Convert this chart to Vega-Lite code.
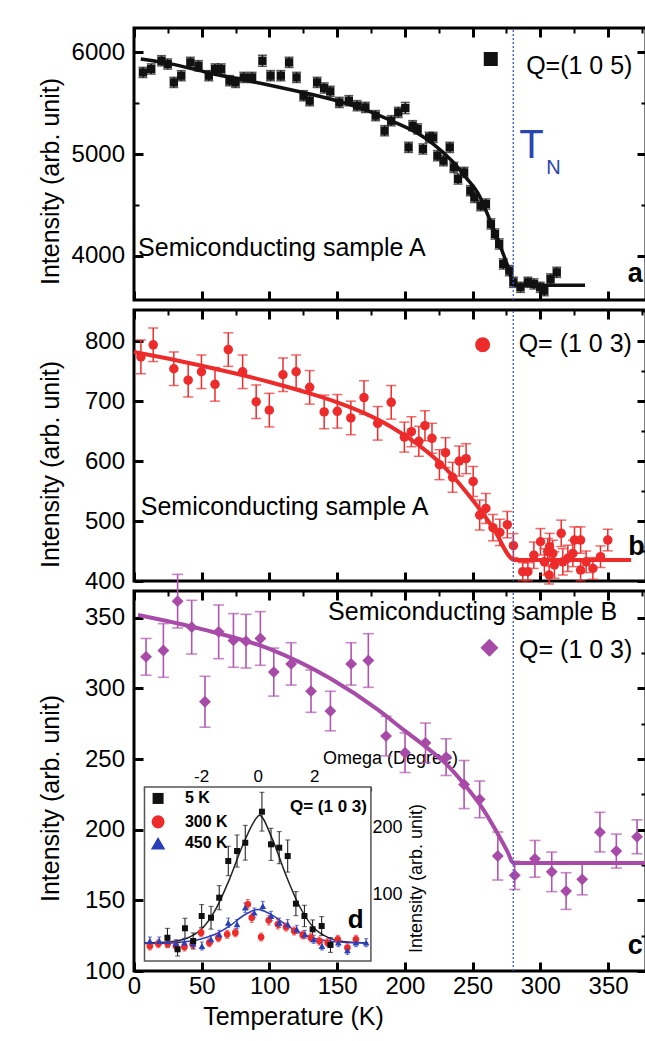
{
"$schema": "https://vega.github.io/schema/vega-lite/v6.json",
"background": "white",
"padding": {"left": 36, "top": 25, "right": 0, "bottom": 0},
"spacing": 10,
"bounds": "flush",
"config": {
  "font": "Liberation Sans",
  "view": {"stroke": "black", "strokeWidth": 3},
  "axis": {"grid": false, "domain": false, "labelColor": "black", "titleColor": "black", "titleFontWeight": "normal", "tickColor": "black", "labelFont": "Liberation Sans", "titleFont": "Liberation Sans", "zindex": 1, "labelFlush": false, "labelOverlap": false},
  "text": {"font": "Liberation Sans"}
},
"datasets": {
  "a": [
    {"T":6.6,"I":5803,"e":50},{"T":12.7,"I":5837,"e":50},{"T":20.3,"I":5918,"e":50},{"T":24.9,"I":5886,"e":50},{"T":29.4,"I":5705,"e":50},{"T":34.9,"I":5771,"e":50},{"T":41.6,"I":5902,"e":50},{"T":47.6,"I":5869,"e":50},{"T":55.2,"I":5771,"e":50},{"T":59.8,"I":5837,"e":50},{"T":64.4,"I":5837,"e":50},{"T":70.5,"I":5722,"e":50},{"T":75,"I":5705,"e":50},{"T":81.1,"I":5754,"e":50},{"T":87.2,"I":5754,"e":50},{"T":94.8,"I":5918,"e":55},{"T":100.8,"I":5771,"e":50},{"T":108.4,"I":5771,"e":50},{"T":114.5,"I":5902,"e":50},{"T":120,"I":5754,"e":50},{"T":125.2,"I":5574,"e":50},{"T":129.7,"I":5525,"e":50},{"T":135.2,"I":5705,"e":50},{"T":140.4,"I":5650,"e":50},{"T":144.9,"I":5617,"e":50},{"T":151.6,"I":5508,"e":50},{"T":158.6,"I":5525,"e":50},{"T":164.7,"I":5476,"e":50},{"T":170.8,"I":5459,"e":50},{"T":178.4,"I":5378,"e":50},{"T":185,"I":5230,"e":50},{"T":189.9,"I":5328,"e":50},{"T":195.1,"I":5410,"e":50},{"T":200.3,"I":5453,"e":55},{"T":202.7,"I":5066,"e":50},{"T":205.7,"I":5279,"e":50},{"T":209.4,"I":5247,"e":50},{"T":213.3,"I":5050,"e":50},{"T":217.9,"I":5164,"e":50},{"T":220.9,"I":5164,"e":50},{"T":224,"I":4984,"e":50},{"T":228.5,"I":4935,"e":50},{"T":233.1,"I":5066,"e":50},{"T":236.1,"I":4869,"e":50},{"T":239.2,"I":4755,"e":50},{"T":243.7,"I":4820,"e":50},{"T":248.3,"I":4640,"e":50},{"T":251.3,"I":4574,"e":50},{"T":255.9,"I":4493,"e":50},{"T":259.8,"I":4509,"e":50},{"T":263.5,"I":4313,"e":50},{"T":266.5,"I":4214,"e":50},{"T":269.6,"I":4116,"e":50},{"T":272.6,"I":3919,"e":50},{"T":277.1,"I":3854,"e":50},{"T":280.1,"I":3739,"e":50},{"T":285.3,"I":3690,"e":50},{"T":290.8,"I":3739,"e":50},{"T":295.3,"I":3723,"e":50},{"T":299.9,"I":3690,"e":50},{"T":302.9,"I":3657,"e":50},{"T":307.5,"I":3772,"e":50},{"T":312.1,"I":3837,"e":50}
  ],
  "afit": [
    {"T":5,"I":5935},{"T":30,"I":5880},{"T":54,"I":5803},{"T":75,"I":5745},{"T":96,"I":5689},{"T":120,"I":5620},{"T":145,"I":5542},{"T":170,"I":5440},{"T":190,"I":5328},{"T":210,"I":5200},{"T":221,"I":5099},{"T":235,"I":4930},{"T":245,"I":4771},{"T":255,"I":4590},{"T":260,"I":4440},{"T":266,"I":4240},{"T":272.6,"I":4018},{"T":277,"I":3860},{"T":280.5,"I":3710},{"T":300,"I":3710},{"T":333,"I":3710}
  ],
  "b": [
    {"T":5.1,"I":773.8,"e":28},{"T":14.2,"I":794,"e":28},{"T":29.4,"I":754,"e":28},{"T":40,"I":735,"e":28},{"T":49.8,"I":749,"e":28},{"T":59.8,"I":728,"e":28},{"T":69.6,"I":786,"e":28},{"T":80.2,"I":749,"e":28},{"T":90.2,"I":699,"e":28},{"T":99.9,"I":685,"e":28},{"T":110,"I":744,"e":28},{"T":119.7,"I":749,"e":28},{"T":129.7,"I":723,"e":28},{"T":140.4,"I":682,"e":28},{"T":150.1,"I":683,"e":28},{"T":160.1,"I":672,"e":28},{"T":169.8,"I":706,"e":28},{"T":179.9,"I":663,"e":28},{"T":189.9,"I":698,"e":28},{"T":199.6,"I":640,"e":25},{"T":204.8,"I":649,"e":25},{"T":210.3,"I":633,"e":25},{"T":214.8,"I":659,"e":25},{"T":220,"I":638,"e":25},{"T":225.5,"I":594,"e":25},{"T":230,"I":614,"e":25},{"T":235.2,"I":573,"e":25},{"T":240.1,"I":600,"e":25},{"T":245.2,"I":604,"e":25},{"T":250.4,"I":566,"e":25},{"T":255.2,"I":510,"e":25},{"T":259.8,"I":521,"e":25},{"T":265,"I":489,"e":22},{"T":270.1,"I":481,"e":22},{"T":275.6,"I":494,"e":22},{"T":280.1,"I":459,"e":20},
    {"T":287,"I":415.5,"e":15},{"T":290.8,"I":415.5,"e":15},{"T":295.2,"I":443,"e":22},{"T":300.1,"I":465.5,"e":22},{"T":303,"I":432,"e":22},{"T":305.5,"I":449,"e":22},{"T":306.8,"I":457.5,"e":22},{"T":309.2,"I":446,"e":22},{"T":310.4,"I":426.7,"e":22},{"T":315.4,"I":479.5,"e":22},{"T":316.6,"I":432,"e":22},{"T":320.3,"I":437.8,"e":22},{"T":324,"I":446,"e":22},{"T":325.2,"I":468.3,"e":22},{"T":329.7,"I":468.3,"e":22},{"T":329.7,"I":418.3,"e":18},{"T":333.8,"I":432,"e":18},{"T":338.8,"I":421,"e":18},{"T":344.4,"I":440.5,"e":18},{"T":349.8,"I":468.3,"e":18},{"T":306.5,"I":410,"e":15}
  ],
  "bfit": [
    {"T":0,"I":782},{"T":25,"I":771},{"T":50,"I":759},{"T":75,"I":746},{"T":100,"I":732},{"T":125,"I":716},{"T":150,"I":698},{"T":170,"I":680},{"T":190,"I":657},{"T":210,"I":627},{"T":230,"I":588},{"T":250,"I":535},{"T":265,"I":489},{"T":281,"I":435},{"T":367,"I":435}
  ],
  "c": [
    {"T":8.9,"I":322.4,"e":13},{"T":21.7,"I":326.9,"e":19},{"T":32.2,"I":361.8,"e":19},{"T":42.6,"I":343.4,"e":19},{"T":52.4,"I":290.6,"e":18},{"T":62.5,"I":340.1,"e":19},{"T":73.4,"I":334,"e":19},{"T":82.7,"I":333.5,"e":19},{"T":93.3,"I":335.4,"e":19},{"T":103.2,"I":311.6,"e":17},{"T":116,"I":317.4,"e":15},{"T":130.7,"I":298.1,"e":15},{"T":145,"I":284,"e":14},{"T":160.3,"I":317.4,"e":15},{"T":173,"I":319.8,"e":19},{"T":186.1,"I":266.3,"e":14},{"T":200.1,"I":254.5,"e":14},{"T":215.2,"I":261.5,"e":14},{"T":230.4,"I":251.4,"e":13},{"T":243.7,"I":232,"e":17},{"T":255.2,"I":221.5,"e":13},{"T":268.6,"I":181.4,"e":17},{"T":281.1,"I":167.7,"e":10},{"T":296,"I":179.4,"e":13},{"T":308.4,"I":170.2,"e":14},{"T":319,"I":156.6,"e":13},{"T":330.9,"I":164.9,"e":11},{"T":344,"I":198.3,"e":14},{"T":356.1,"I":184.9,"e":12},{"T":371.4,"I":195,"e":12}
  ],
  "cfit": [
    {"T":3,"I":352},{"T":50,"I":342},{"T":100,"I":328},{"T":145,"I":307},{"T":180,"I":285},{"T":200,"I":270},{"T":215,"I":259},{"T":230,"I":247},{"T":244,"I":232},{"T":256,"I":217},{"T":268,"I":198},{"T":276,"I":184},{"T":280,"I":176.5},{"T":378,"I":176.5}
  ],
  "k5": [
    {"w":-3.19,"I":34.8,"e":14},{"w":-2.83,"I":17.5,"e":10},{"w":-2.57,"I":48.9,"e":15},{"w":-2.28,"I":29.9,"e":12},{"w":-1.98,"I":67.3,"e":17},{"w":-1.65,"I":64.7,"e":17},{"w":-1.36,"I":94.6,"e":18},{"w":-1.04,"I":149.5,"e":22},{"w":-0.73,"I":164.4,"e":24},{"w":-0.44,"I":176.8,"e":26},{"w":0.15,"I":223.2,"e":29},{"w":0.47,"I":174.4,"e":24},{"w":0.76,"I":169.4,"e":24},{"w":1.06,"I":156.9,"e":24},{"w":1.35,"I":85.7,"e":18},{"w":1.65,"I":67.3,"e":16},{"w":1.94,"I":47.4,"e":14},{"w":2.26,"I":52.3,"e":14},{"w":2.57,"I":23.9,"e":11}
  ],
  "k300": [
    {"w":-3.81,"I":22.4,"e":6},{"w":-3.51,"I":25.9,"e":6},{"w":-3.18,"I":25.9,"e":6},{"w":-2.89,"I":22.4,"e":6},{"w":-2.59,"I":20.9,"e":6},{"w":-2.3,"I":25,"e":6},{"w":-2.0,"I":42.3,"e":6},{"w":-1.71,"I":27.4,"e":6},{"w":-1.39,"I":34.8,"e":6},{"w":-1.08,"I":39.9,"e":6},{"w":-0.79,"I":42.3,"e":6},{"w":-0.35,"I":84.8,"e":7},{"w":-0.21,"I":64.7,"e":7},{"w":0.12,"I":35.9,"e":6},{"w":0.39,"I":60.8,"e":7},{"w":0.71,"I":54.9,"e":7},{"w":1.0,"I":50.8,"e":6},{"w":1.29,"I":44.8,"e":6},{"w":1.59,"I":38.9,"e":6},{"w":1.88,"I":34.8,"e":6},{"w":2.18,"I":29.9,"e":6},{"w":2.47,"I":27.4,"e":6},{"w":2.83,"I":32.4,"e":6},{"w":3.17,"I":19.9,"e":6},{"w":3.47,"I":32.4,"e":6}
  ],
  "k450": [
    {"w":-3.81,"I":29.9,"e":6},{"w":-3.48,"I":29.9,"e":6},{"w":-3.18,"I":29.9,"e":6},{"w":-2.89,"I":25.9,"e":6},{"w":-2.59,"I":27.4,"e":6},{"w":-2.28,"I":25.9,"e":6},{"w":-1.97,"I":22.4,"e":6},{"w":-1.65,"I":32.4,"e":6},{"w":-1.36,"I":39.9,"e":6},{"w":-1.04,"I":57.2,"e":7},{"w":-0.73,"I":54.9,"e":7},{"w":-0.44,"I":79.7,"e":7},{"w":-0.12,"I":72.2,"e":7},{"w":0.18,"I":82.2,"e":7},{"w":0.47,"I":67.3,"e":7},{"w":0.76,"I":57.2,"e":7},{"w":1.06,"I":54.9,"e":7},{"w":1.38,"I":47.4,"e":6},{"w":1.67,"I":39.9,"e":6},{"w":1.98,"I":32.4,"e":6},{"w":2.27,"I":22.4,"e":6},{"w":2.57,"I":27.4,"e":6},{"w":2.85,"I":27.4,"e":6},{"w":3.17,"I":16,"e":6},{"w":3.47,"I":27.4,"e":6},{"w":3.83,"I":27.4,"e":6}
  ],
  "k5fit": [
    {"w":-4,"I":27},{"w":-3.5,"I":27.5},{"w":-3,"I":29},{"w":-2.5,"I":34},{"w":-2,"I":47},{"w":-1.5,"I":76},{"w":-1,"I":122},{"w":-0.5,"I":176},{"w":0,"I":216},{"w":0.06,"I":218},{"w":0.5,"I":184},{"w":1,"I":128},{"w":1.5,"I":80},{"w":2,"I":49},{"w":2.5,"I":35},{"w":3,"I":29},{"w":3.5,"I":27.5},{"w":3.9,"I":27}
  ],
  "k450fit": [
    {"w":-4,"I":26},{"w":-3,"I":27},{"w":-2.5,"I":29},{"w":-2,"I":33},{"w":-1.5,"I":40},{"w":-1,"I":52},{"w":-0.5,"I":68},{"w":0,"I":77},{"w":0.5,"I":69},{"w":1,"I":54},{"w":1.5,"I":42},{"w":2,"I":34},{"w":2.5,"I":30},{"w":3,"I":28},{"w":3.9,"I":27}
  ]
},
"vconcat": [
  {
    "width": 512, "height": 272,
    "resolve": {"scale": {"x": "independent", "y": "independent"}},
    "layer": [
      {
        "layer": [
          {"data": {"name": "a"}, "mark": {"type": "errorbar", "ticks": {"size": 9}, "color": "#111111", "thickness": 1.5},
           "encoding": {"x": {"field": "T", "type": "quantitative", "title": null}, "y": {"field": "I", "type": "quantitative", "title": "Intensity (arb. unit)"}, "yError": {"field": "e"}}},
          {"data": {"name": "a"}, "mark": {"type": "point", "shape": "square", "filled": true, "size": 70, "color": "#111111", "opacity": 1},
           "encoding": {
            "x": {"field": "T", "type": "quantitative", "title": null, "scale": {"domain": [0, 378], "nice": false, "zero": false},
                  "axis": {"orient": "bottom", "values": [0,25,50,75,100,125,150,175,200,225,250,275,300,325,350,375], "labels": false, "title": null,
                           "tickSize": {"condition": {"test": "datum.value % 50 === 0", "value": -9}, "value": -5},
                           "tickWidth": {"condition": {"test": "datum.value % 50 === 0", "value": 3}, "value": 2}}},
            "y": {"field": "I", "type": "quantitative", "title": "Intensity (arb. unit)", "scale": {"domain": [3565, 6240], "nice": false, "zero": false},
                  "axis": {"orient": "left", "values": [4000,4500,5000,5500,6000], "format": "d", "labelExpr": "datum.value % 1000 === 0 ? datum.label : ''",
                           "tickSize": {"condition": {"test": "datum.value % 1000 === 0", "value": -9}, "value": -5},
                           "tickWidth": {"condition": {"test": "datum.value % 1000 === 0", "value": 3}, "value": 2},
                           "labelFontSize": 24, "labelPadding": 18.5, "title": "Intensity (arb. unit)", "titleFontSize": 25, "titleX": -71, "titleY": 153}}
           }},
          {"data": {"name": "afit"}, "mark": {"type": "line", "color": "#111111", "strokeWidth": 3.5, "interpolate": "monotone"},
           "encoding": {"x": {"field": "T", "type": "quantitative", "title": null}, "y": {"field": "I", "type": "quantitative", "title": "Intensity (arb. unit)"}}},
          {"data": {"values": [{}]}, "mark": {"type": "text", "text": "Semiconducting sample A", "fontSize": 25, "align": "left", "baseline": "alphabetic", "color": "black"}, "encoding": {"x": {"datum": 3}, "y": {"datum": 4001}}},
          {"data": {"values": [{}]}, "mark": {"type": "point", "shape": "square", "filled": true, "size": 196, "color": "#111111", "opacity": 1}, "encoding": {"x": {"datum": 263.4}, "y": {"datum": 5935}}},
          {"data": {"values": [{}]}, "mark": {"type": "text", "text": "Q=(1 0 5)", "fontSize": 25, "align": "left", "baseline": "alphabetic", "color": "black"}, "encoding": {"x": {"datum": 289.5}, "y": {"datum": 5790}}},
          {"data": {"values": [{}]}, "mark": {"type": "text", "text": "T", "fontSize": 40, "align": "left", "baseline": "alphabetic", "color": "#2a44b0"}, "encoding": {"x": {"datum": 284.5}, "y": {"datum": 4960}}},
          {"data": {"values": [{}]}, "mark": {"type": "text", "text": "N", "fontSize": 20, "align": "left", "baseline": "alphabetic", "color": "#2a44b0"}, "encoding": {"x": {"datum": 304.3}, "y": {"datum": 4807}}},
          {"data": {"values": [{}]}, "mark": {"type": "text", "text": "a", "fontSize": 27, "fontWeight": "bold", "align": "center", "baseline": "alphabetic", "color": "black"}, "encoding": {"x": {"datum": 370}, "y": {"datum": 3738}}}
        ]
      },
      {
        "data": {"values": [{}]},
        "mark": {"type": "rule", "color": "#3a5bd0", "strokeDash": [2, 2], "strokeWidth": 1.3},
        "encoding": {
          "x": {"datum": 280, "type": "quantitative", "scale": {"domain": [0, 378], "nice": false, "zero": false},
                "axis": {"orient": "top", "values": [0,25,50,75,100,125,150,175,200,225,250,275,300,325,350,375], "labels": false, "title": null,
                         "tickSize": {"condition": {"test": "datum.value % 50 === 0", "value": -9}, "value": -5},
                         "tickWidth": {"condition": {"test": "datum.value % 50 === 0", "value": 3}, "value": 2}}},
          "y": {"datum": 3565, "type": "quantitative", "scale": {"domain": [3565, 6240], "nice": false, "zero": false},
                "axis": {"orient": "right", "values": [4000,4500,5000,5500,6000], "labels": false, "title": null,
                         "tickSize": {"condition": {"test": "datum.value % 1000 === 0", "value": -9}, "value": -5},
                         "tickWidth": {"condition": {"test": "datum.value % 1000 === 0", "value": 3}, "value": 2}}},
          "y2": {"datum": 6240}
        }
      }
    ]
  },
  {
    "width": 512, "height": 271,
    "resolve": {"scale": {"x": "independent", "y": "independent"}},
    "layer": [
      {
        "layer": [
          {"data": {"name": "b"}, "mark": {"type": "errorbar", "ticks": {"size": 10}, "color": "#ee2b2b", "thickness": 1.5},
           "encoding": {"x": {"field": "T", "type": "quantitative", "title": null}, "y": {"field": "I", "type": "quantitative", "title": "Intensity (arb. unit)"}, "yError": {"field": "e"}}},
          {"data": {"name": "b"}, "mark": {"type": "point", "shape": "circle", "filled": true, "size": 90, "color": "#ee2b2b", "opacity": 1},
           "encoding": {
            "x": {"field": "T", "type": "quantitative", "title": null, "scale": {"domain": [0, 378], "nice": false, "zero": false},
                  "axis": {"orient": "bottom", "values": [0,25,50,75,100,125,150,175,200,225,250,275,300,325,350,375], "labels": false, "title": null,
                           "tickSize": {"condition": {"test": "datum.value % 50 === 0", "value": -9}, "value": -5},
                           "tickWidth": {"condition": {"test": "datum.value % 50 === 0", "value": 3}, "value": 2}}},
            "y": {"field": "I", "type": "quantitative", "title": "Intensity (arb. unit)", "scale": {"domain": [400, 852], "nice": false, "zero": false},
                  "axis": {"orient": "left", "values": [400,450,500,550,600,650,700,750,800,850], "format": "d", "labelExpr": "datum.value % 100 === 0 ? datum.label : ''",
                           "tickSize": {"condition": {"test": "datum.value % 100 === 0", "value": -9}, "value": -5},
                           "tickWidth": {"condition": {"test": "datum.value % 100 === 0", "value": 3}, "value": 2},
                           "labelFontSize": 24, "labelPadding": 18.5, "title": "Intensity (arb. unit)", "titleFontSize": 25, "titleX": -71, "titleY": 154}}
           }},
          {"data": {"name": "bfit"}, "mark": {"type": "line", "color": "#ee2b2b", "strokeWidth": 4, "interpolate": "monotone"},
           "encoding": {"x": {"field": "T", "type": "quantitative", "title": null}, "y": {"field": "I", "type": "quantitative", "title": "Intensity (arb. unit)"}}},
          {"data": {"values": [{}]}, "mark": {"type": "text", "text": "Semiconducting sample A", "fontSize": 25, "align": "left", "baseline": "alphabetic", "color": "black"}, "encoding": {"x": {"datum": 5}, "y": {"datum": 510}}},
          {"data": {"values": [{}]}, "mark": {"type": "point", "shape": "circle", "filled": true, "size": 225, "color": "#ee2b2b", "opacity": 1}, "encoding": {"x": {"datum": 257.4}, "y": {"datum": 794}}},
          {"data": {"values": [{}]}, "mark": {"type": "text", "text": "Q= (1 0 3)", "fontSize": 25, "align": "left", "baseline": "alphabetic", "color": "black"}, "encoding": {"x": {"datum": 284}, "y": {"datum": 782}}},
          {"data": {"values": [{}]}, "mark": {"type": "text", "text": "b", "fontSize": 27, "fontWeight": "bold", "align": "center", "baseline": "alphabetic", "color": "black"}, "encoding": {"x": {"datum": 371}, "y": {"datum": 444}}}
        ]
      },
      {
        "data": {"values": [{}]},
        "mark": {"type": "rule", "color": "#3a5bd0", "strokeDash": [2, 2], "strokeWidth": 1.3},
        "encoding": {
          "x": {"datum": 280, "type": "quantitative", "scale": {"domain": [0, 378], "nice": false, "zero": false},
                "axis": {"orient": "top", "values": [0,25,50,75,100,125,150,175,200,225,250,275,300,325,350,375], "labels": false, "title": null,
                         "tickSize": {"condition": {"test": "datum.value % 50 === 0", "value": -9}, "value": -5},
                         "tickWidth": {"condition": {"test": "datum.value % 50 === 0", "value": 3}, "value": 2}}},
          "y": {"datum": 400, "type": "quantitative", "scale": {"domain": [400, 852], "nice": false, "zero": false},
                "axis": {"orient": "right", "values": [400,450,500,550,600,650,700,750,800,850], "labels": false, "title": null,
                         "tickSize": {"condition": {"test": "datum.value % 100 === 0", "value": -9}, "value": -5},
                         "tickWidth": {"condition": {"test": "datum.value % 100 === 0", "value": 3}, "value": 2}}},
          "y2": {"datum": 852}
        }
      }
    ]
  },
  {
    "width": 512, "height": 380,
    "resolve": {"scale": {"x": "independent", "y": "independent"}},
    "layer": [
      {
        "layer": [
          {"data": {"name": "c"}, "mark": {"type": "errorbar", "ticks": {"size": 11}, "color": "#b055b0", "thickness": 1.6},
           "encoding": {"x": {"field": "T", "type": "quantitative", "title": "Temperature (K)"}, "y": {"field": "I", "type": "quantitative", "title": "Intensity (arb. unit)"}, "yError": {"field": "e"}}},
          {"data": {"name": "c"}, "mark": {"type": "point", "shape": "diamond", "filled": true, "size": 140, "color": "#a84aa8", "opacity": 1},
           "encoding": {
            "x": {"field": "T", "type": "quantitative", "title": "Temperature (K)", "scale": {"domain": [0, 378], "nice": false, "zero": false},
                  "axis": {"orient": "bottom", "values": [0,25,50,75,100,125,150,175,200,225,250,275,300,325,350,375], "labelExpr": "datum.value % 50 === 0 ? datum.label : ''",
                           "tickSize": {"condition": {"test": "datum.value % 50 === 0", "value": -9}, "value": -5},
                           "tickWidth": {"condition": {"test": "datum.value % 50 === 0", "value": 3}, "value": 2},
                           "labelFontSize": 24, "labelPadding": 12, "title": "Temperature (K)", "titleFontSize": 25, "titleX": 159, "titleY": 33}},
            "y": {"field": "I", "type": "quantitative", "title": "Intensity (arb. unit)", "scale": {"domain": [100, 369], "nice": false, "zero": false},
                  "axis": {"orient": "left", "values": [100,125,150,175,200,225,250,275,300,325,350], "format": "d", "labelExpr": "datum.value % 50 === 0 ? datum.label : ''",
                           "tickSize": {"condition": {"test": "datum.value % 50 === 0", "value": -9}, "value": -5},
                           "tickWidth": {"condition": {"test": "datum.value % 50 === 0", "value": 3}, "value": 2},
                           "labelFontSize": 24, "labelPadding": 18.5, "title": "Intensity (arb. unit)", "titleFontSize": 25, "titleX": -71, "titleY": 207}}
           }},
          {"data": {"name": "cfit"}, "mark": {"type": "line", "color": "#a84aa8", "strokeWidth": 4, "interpolate": "monotone"},
           "encoding": {"x": {"field": "T", "type": "quantitative", "title": "Temperature (K)"}, "y": {"field": "I", "type": "quantitative", "title": "Intensity (arb. unit)"}}},
          {"data": {"values": [{}]}, "mark": {"type": "text", "text": "Semiconducting sample B", "fontSize": 25, "align": "left", "baseline": "alphabetic", "color": "black"}, "encoding": {"x": {"datum": 143.3}, "y": {"datum": 348.2}}},
          {"data": {"values": [{}]}, "mark": {"type": "point", "shape": "diamond", "filled": true, "size": 324, "color": "#a84aa8", "opacity": 1}, "encoding": {"x": {"datum": 262.4}, "y": {"datum": 328.8}}},
          {"data": {"values": [{}]}, "mark": {"type": "text", "text": "Q= (1 0 3)", "fontSize": 25, "align": "left", "baseline": "alphabetic", "color": "black"}, "encoding": {"x": {"datum": 284.3}, "y": {"datum": 321.7}}},
          {"data": {"values": [{}]}, "mark": {"type": "text", "text": "c", "fontSize": 27, "fontWeight": "bold", "align": "center", "baseline": "alphabetic", "color": "black"}, "encoding": {"x": {"datum": 370}, "y": {"datum": 112}}}
        ]
      },
      {
        "data": {"values": [{}]},
        "mark": {"type": "rule", "color": "#3a5bd0", "strokeDash": [2, 2], "strokeWidth": 1.3},
        "encoding": {
          "x": {"datum": 280, "type": "quantitative", "scale": {"domain": [0, 378], "nice": false, "zero": false},
                "axis": {"orient": "top", "values": [0,25,50,75,100,125,150,175,200,225,250,275,300,325,350,375], "labels": false, "title": null,
                         "tickSize": {"condition": {"test": "datum.value % 50 === 0", "value": -9}, "value": -5},
                         "tickWidth": {"condition": {"test": "datum.value % 50 === 0", "value": 3}, "value": 2}}},
          "y": {"datum": 100, "type": "quantitative", "scale": {"domain": [100, 369], "nice": false, "zero": false},
                "axis": {"orient": "right", "values": [100,125,150,175,200,225,250,275,300,325,350], "labels": false, "title": null,
                         "tickSize": {"condition": {"test": "datum.value % 50 === 0", "value": -9}, "value": -5},
                         "tickWidth": {"condition": {"test": "datum.value % 50 === 0", "value": 3}, "value": 2}}},
          "y2": {"datum": 369}
        }
      },
      {
        "layer": [
          {"data": {"values": [{}]}, "mark": {"type": "rect", "fill": "white", "stroke": "#555555", "strokeWidth": 1.5},
           "encoding": {
            "x": {"datum": -4, "type": "quantitative", "title": "Omega (Degree)", "scale": {"domain": [-4.371, 13.72], "nice": false, "zero": false},
                  "axis": {"orient": "top", "offset": -196, "values": [-4,-3,-2,-1,0,1,2,3,4], "labelExpr": "datum.value === -2 ? '-2' : datum.value === 0 ? '0' : datum.value === 2 ? '2' : ''",
                           "tickSize": -4, "tickWidth": 1.2, "tickColor": "#444", "labelFontSize": 17, "labelPadding": 6,
                           "title": "Omega (Degree)", "titleFontSize": 18, "titlePadding": 0}},
            "x2": {"datum": 4},
            "y": {"datum": 0, "type": "quantitative", "title": "Intensity (arb. unit)", "scale": {"domain": [-14.95, 553.1], "nice": false, "zero": false},
                  "axis": {"orient": "right", "offset": -276, "values": [50,100,150,200,250], "labelExpr": "datum.value === 100 || datum.value === 200 ? datum.label : ''",
                           "tickSize": -4, "tickWidth": 1.2, "tickColor": "#444", "labelFontSize": 18, "labelPadding": 6,
                           "title": "Intensity (arb. unit)", "titleFontSize": 18, "titleAngle": 270, "titleBaseline": "bottom", "titleX": 55, "titleY": 287}},
            "y2": {"datum": 260}
           }},
          {"data": {"name": "k5fit"}, "mark": {"type": "line", "color": "#222222", "strokeWidth": 1.5, "interpolate": "monotone"}, "encoding": {"x": {"field": "w", "type": "quantitative", "title": "Omega (Degree)"}, "y": {"field": "I", "type": "quantitative", "title": "Intensity (arb. unit)"}}},
          {"data": {"name": "k450fit"}, "mark": {"type": "line", "color": "#2a3fb8", "strokeWidth": 1.5, "interpolate": "monotone"}, "encoding": {"x": {"field": "w", "type": "quantitative", "title": "Omega (Degree)"}, "y": {"field": "I", "type": "quantitative", "title": "Intensity (arb. unit)"}}},
          {"data": {"name": "k5"}, "mark": {"type": "errorbar", "ticks": {"size": 5}, "color": "#111111", "thickness": 1}, "encoding": {"x": {"field": "w", "type": "quantitative", "title": "Omega (Degree)"}, "y": {"field": "I", "type": "quantitative", "title": "Intensity (arb. unit)"}, "yError": {"field": "e"}}},
          {"data": {"name": "k300"}, "mark": {"type": "errorbar", "ticks": {"size": 4}, "color": "#ee2b2b", "thickness": 1}, "encoding": {"x": {"field": "w", "type": "quantitative", "title": "Omega (Degree)"}, "y": {"field": "I", "type": "quantitative", "title": "Intensity (arb. unit)"}, "yError": {"field": "e"}}},
          {"data": {"name": "k450"}, "mark": {"type": "errorbar", "ticks": {"size": 4}, "color": "#2a3fb8", "thickness": 1}, "encoding": {"x": {"field": "w", "type": "quantitative", "title": "Omega (Degree)"}, "y": {"field": "I", "type": "quantitative", "title": "Intensity (arb. unit)"}, "yError": {"field": "e"}}},
          {"data": {"name": "k300"}, "mark": {"type": "point", "shape": "circle", "filled": true, "size": 45, "color": "#ee2b2b", "opacity": 1}, "encoding": {"x": {"field": "w", "type": "quantitative", "title": "Omega (Degree)"}, "y": {"field": "I", "type": "quantitative", "title": "Intensity (arb. unit)"}}},
          {"data": {"name": "k450"}, "mark": {"type": "point", "shape": "triangle-up", "filled": true, "size": 45, "color": "#2a3fb8", "opacity": 1}, "encoding": {"x": {"field": "w", "type": "quantitative", "title": "Omega (Degree)"}, "y": {"field": "I", "type": "quantitative", "title": "Intensity (arb. unit)"}}},
          {"data": {"name": "k5"}, "mark": {"type": "point", "shape": "square", "filled": true, "size": 36, "color": "#111111", "opacity": 1}, "encoding": {"x": {"field": "w", "type": "quantitative", "title": "Omega (Degree)"}, "y": {"field": "I", "type": "quantitative", "title": "Intensity (arb. unit)"}}},
          {"data": {"values": [{}]}, "mark": {"type": "point", "shape": "square", "filled": true, "size": 121, "color": "#111111", "opacity": 1}, "encoding": {"x": {"datum": -3.52}, "y": {"datum": 243}}},
          {"data": {"values": [{}]}, "mark": {"type": "point", "shape": "circle", "filled": true, "size": 170, "color": "#ee2b2b", "opacity": 1}, "encoding": {"x": {"datum": -3.52}, "y": {"datum": 208}}},
          {"data": {"values": [{}]}, "mark": {"type": "point", "shape": "triangle-up", "filled": true, "size": 210, "color": "#2a3fb8", "opacity": 1}, "encoding": {"x": {"datum": -3.52}, "y": {"datum": 176}}},
          {"data": {"values": [{}]}, "mark": {"type": "text", "text": "5 K", "fontSize": 16, "fontWeight": "bold", "align": "left", "baseline": "middle", "color": "black"}, "encoding": {"x": {"datum": -2.57}, "y": {"datum": 243}}},
          {"data": {"values": [{}]}, "mark": {"type": "text", "text": "300 K", "fontSize": 16, "fontWeight": "bold", "align": "left", "baseline": "middle", "color": "black"}, "encoding": {"x": {"datum": -2.57}, "y": {"datum": 208}}},
          {"data": {"values": [{}]}, "mark": {"type": "text", "text": "450 K", "fontSize": 16, "fontWeight": "bold", "align": "left", "baseline": "middle", "color": "black"}, "encoding": {"x": {"datum": -2.57}, "y": {"datum": 176}}},
          {"data": {"values": [{}]}, "mark": {"type": "text", "text": "Q= (1 0 3)", "fontSize": 17, "fontWeight": "bold", "align": "right", "baseline": "middle", "color": "black"}, "encoding": {"x": {"datum": 3.86}, "y": {"datum": 230}}},
          {"data": {"values": [{}]}, "mark": {"type": "text", "text": "d", "fontSize": 26, "fontWeight": "bold", "align": "center", "baseline": "alphabetic", "color": "black"}, "encoding": {"x": {"datum": 3.46}, "y": {"datum": 50}}}
        ]
      }
    ]
  }
]
}
